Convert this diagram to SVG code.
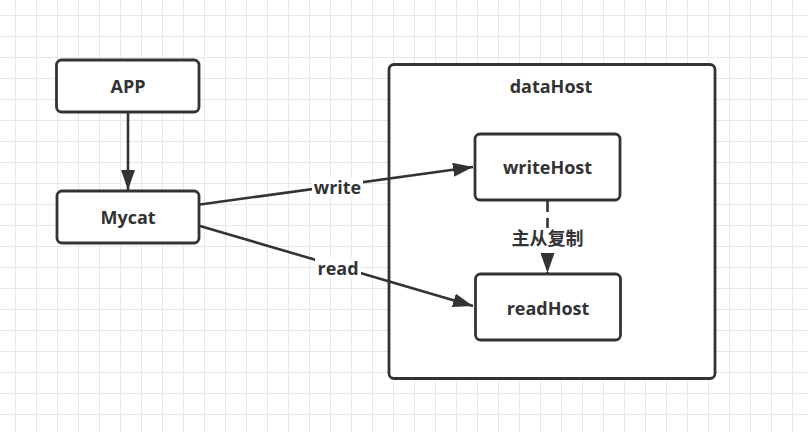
<svg xmlns="http://www.w3.org/2000/svg" width="808" height="432" viewBox="0 0 808 432">
<defs>
<pattern id="grid" x="-6" y="-6" width="21" height="21" patternUnits="userSpaceOnUse">
<path d="M0.5 0 V21 M0 0.5 H21" fill="none" stroke="#e8e8e8" stroke-width="1"/>
</pattern>
<marker id="arr" viewBox="0 0 20 14" refX="20" refY="7" markerWidth="20" markerHeight="14" markerUnits="userSpaceOnUse" orient="auto">
<path d="M0 0 L20 7 L0 14 Z" fill="#333"/>
</marker>
<style>
.box{fill:#fff;stroke:#333;stroke-width:2.8}
.lbl{font-family:"Open Sans","Noto Sans CJK SC",sans-serif;font-weight:700;font-size:18px;fill:#333;text-anchor:middle}
.cjk{font-family:"Noto Sans CJK SC",sans-serif;font-size:18px}
.edge{fill:none;stroke:#333;stroke-width:2.6}
.bg{fill:#fff}
</style>
</defs>
<rect width="808" height="432" fill="#fff"/>
<rect width="808" height="432" fill="url(#grid)"/>

<g id="dataHost">
<rect class="box" x="389" y="64.5" width="326" height="314" rx="5"/>
<text class="lbl" x="551" y="93">dataHost</text>
</g>

<g id="connectors">
<line class="edge" x1="128" y1="113" x2="128" y2="190" marker-end="url(#arr)"/>
<line class="edge" x1="200" y1="204.5" x2="473" y2="167" marker-end="url(#arr)"/>
<line class="edge" x1="200" y1="226" x2="473" y2="306" marker-end="url(#arr)"/>
<line class="edge" x1="547.5" y1="200" x2="547.5" y2="273" stroke-dasharray="12 6" marker-end="url(#arr)"/>
<rect class="bg" x="312" y="178" width="51" height="20"/>
<text class="lbl" x="337.5" y="193.5">write</text>
<rect class="bg" x="315" y="258" width="46" height="20"/>
<text class="lbl" x="338" y="274.5">read</text>
<rect class="bg" x="509" y="228" width="77" height="21"/>
<text class="lbl cjk" x="547.5" y="245">主从复制</text>
</g>

<g id="APP">
<rect class="box" x="56.5" y="60" width="142.5" height="52" rx="5"/>
<text class="lbl" x="128" y="93">APP</text>
</g>
<g id="Mycat">
<rect class="box" x="57" y="191" width="142" height="52" rx="5"/>
<text class="lbl" x="128" y="224">Mycat</text>
</g>
<g id="writeHost">
<rect class="box" x="475" y="134" width="145" height="66" rx="5"/>
<text class="lbl" x="547.5" y="174">writeHost</text>
</g>
<g id="readHost">
<rect class="box" x="475.5" y="274" width="145" height="66" rx="5"/>
<text class="lbl" x="548" y="315">readHost</text>
</g>
</svg>
